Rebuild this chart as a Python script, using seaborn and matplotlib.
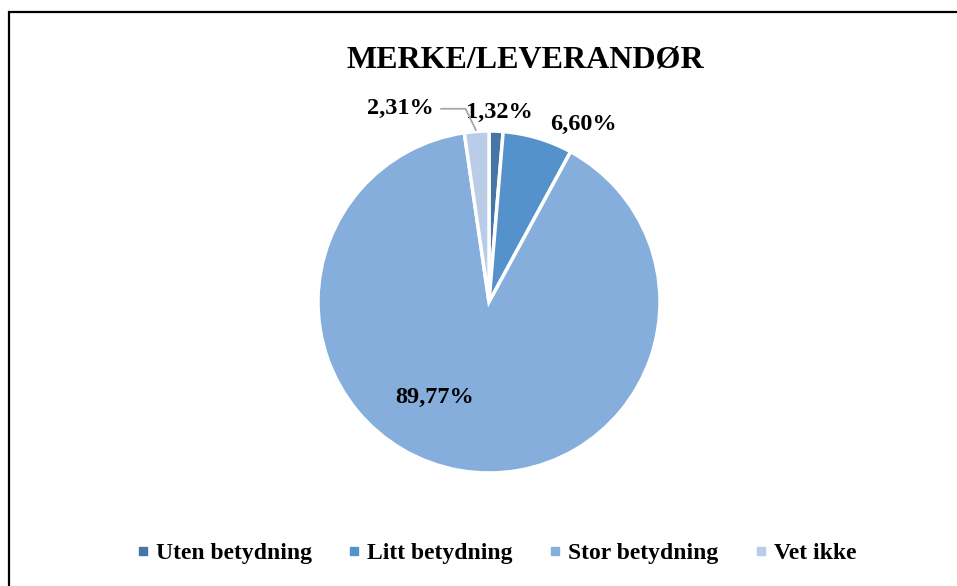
import numpy as np
import matplotlib
matplotlib.use("Agg")
import matplotlib.pyplot as plt
from matplotlib.patches import Rectangle
from matplotlib.lines import Line2D
import seaborn as sns

# data
categories = ["Uten betydning", "Litt betydning", "Stor betydning", "Vet ikke"]
shares = [1.32, 6.60, 89.77, 2.31]
pct_labels = ["1,32%", "6,60%", "89,77%", "2,31%"]
colors = ["#4676A6", "#5592CB", "#85AEDC", "#B9CDE8"]

sns.set_theme(style="white")
plt.rcParams["font.family"] = ["Liberation Serif", "DejaVu Serif"]
plt.rcParams["text.color"] = "black"

fig = plt.figure(figsize=(9.57, 5.86), dpi=100)
W, H = 957, 586

# pie placed so that its centre sits at (489, 302) px with radius 171 px
cx, cy, r = 489, 302, 171
lim = 1.4
size = 2 * lim * r
ax = fig.add_axes([(cx - lim * r) / W, (H - cy - lim * r) / H, size / W, size / H])

palette = sns.color_palette(colors)
wedges, _ = ax.pie(shares, colors=palette, startangle=90, counterclock=False,
                   radius=1.0,
                   wedgeprops=dict(edgecolor="white", linewidth=2.5))
ax.set_xlim(-lim, lim)
ax.set_ylim(-lim, lim)
ax.set_aspect("equal")
ax.axis("off")

lab_kw = dict(fontsize=17.5, fontweight="bold", color="black",
              ha="center", va="center")
ax.text(0.06, 1.11, pct_labels[0], **lab_kw)
ax.text(0.55, 1.04, pct_labels[1], **lab_kw)
ax.text(-0.32, -0.56, pct_labels[2], **lab_kw)

# leader line for the small "Vet ikke" slice
w = wedges[3]
mid = np.deg2rad((w.theta1 + w.theta2) / 2)
tip = (np.cos(mid), np.sin(mid))
ax.annotate(pct_labels[3], xy=tip, xytext=(-0.52, 1.13),
            fontsize=17.5, fontweight="bold", color="black",
            ha="center", va="center",
            arrowprops=dict(arrowstyle="-", color="#A6A6A6", lw=1.3,
                            shrinkA=3, shrinkB=1,
                            connectionstyle="angle,angleA=0,angleB=116"))

fig.text(525 / W, 1 - 60 / H, "MERKE/LEVERANDØR", fontsize=23,
         fontweight="bold", color="black", ha="center", va="center")

handles = [Line2D([], [], marker="s", linestyle="none", markersize=6,
                  markerfacecolor=c, markeredgecolor=c) for c in palette]
leg = fig.legend(handles, categories, loc="center",
                 bbox_to_anchor=(497 / W, 1 - 553 / H),
                 ncol=4, frameon=False, prop=dict(size=17, weight="bold"),
                 handlelength=0.4, handletextpad=0.35, columnspacing=1.6)
for t in leg.get_texts():
    t.set_color("black")

# chart border (left and top edges visible, rest runs off the image)
fig.patches.append(Rectangle((9 / W, -0.1), 1.2, (H - 12) / H + 0.1,
                             transform=fig.transFigure, fill=False,
                             edgecolor="black", linewidth=1.6))

fig.savefig("out.png", dpi=100)
